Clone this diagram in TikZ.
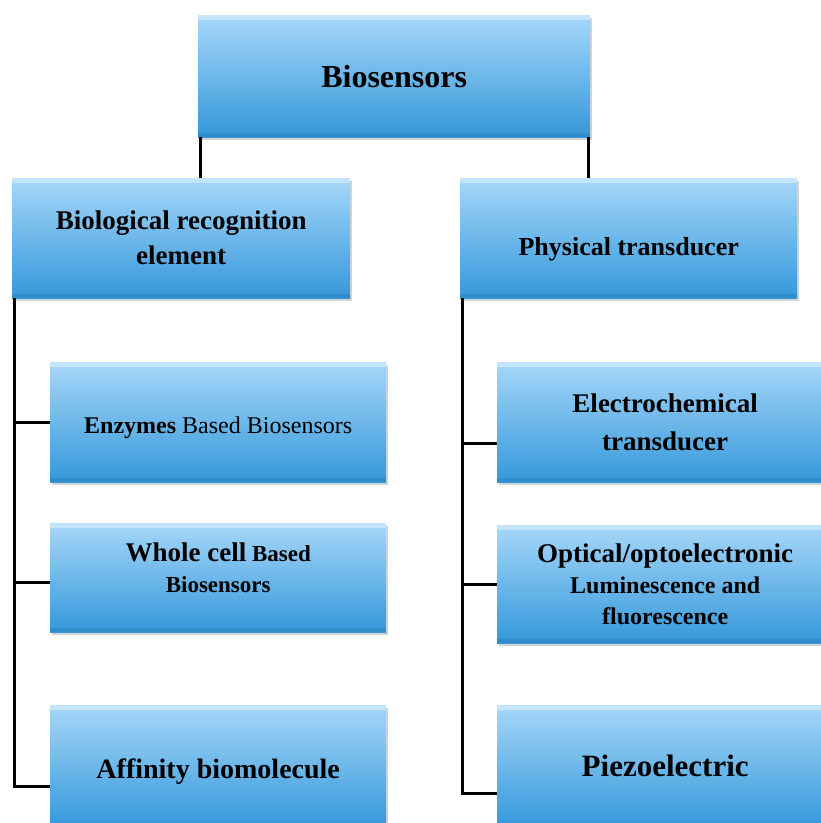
\documentclass[tikz,border=0pt]{standalone}
\usepackage{fontspec}
\setmainfont{Liberation Serif}
\usetikzlibrary{shadows, positioning, calc}
\definecolor{boxtop}{RGB}{166,215,249}
\definecolor{boxbot}{RGB}{52,152,218}

\begin{document}
\begin{tikzpicture}[
    x=1pt, y=-1pt,
    box/.style={rectangle, anchor=north west, inner sep=0pt,
                top color=boxtop, bottom color=boxbot, align=center,
                drop shadow={shadow xshift=2pt, shadow yshift=-3pt, opacity=0.35},
                path picture={
                  \fill[white, opacity=0.35] (path picture bounding box.north west) rectangle ([yshift=-5pt]path picture bounding box.north east);
                  \fill[black, opacity=0.08] (path picture bounding box.south west) rectangle ([yshift=4pt]path picture bounding box.south east);}},
    conn/.style={line width=3pt, black}
]
\useasboundingbox (0,0) rectangle (821,823);
\clip (0,0) rectangle (821,823);

% top and second level
\node[box, minimum width=392pt, minimum height=122pt, font=\fontsize{32}{36}\selectfont\bfseries] (B) at (198,15) {Biosensors};
\node[box, minimum width=338pt, minimum height=120pt, font=\fontsize{27}{35}\selectfont\bfseries] (L) at (12,178) {Biological recognition\\element};
\node[box, minimum width=337pt, minimum height=120pt, text height=40pt, text depth=6pt, font=\fontsize{26}{34}\selectfont\bfseries] (P) at (460,178) {Physical transducer};

% left column
\node[box, minimum width=336pt, minimum height=120pt, text height=28pt, text depth=5pt, font=\fontsize{24}{30}\selectfont] (E) at (50,362) {\textbf{Enzymes} Based Biosensors};
\node[box, minimum width=336pt, minimum height=109pt, font=\fontsize{23}{31}\selectfont\bfseries] (W) at (50,523) {{\fontsize{27}{31}\selectfont Whole cell} Based\\Biosensors\\[-10pt]};
\node[box, minimum width=336pt, minimum height=122pt, text height=30pt, text depth=6pt, font=\fontsize{28}{34}\selectfont\bfseries] (A) at (50,705) {Affinity biomolecule};

% right column
\node[box, minimum width=336pt, minimum height=120pt, font=\fontsize{27}{38}\selectfont\bfseries] (C) at (497,362) {Electrochemical\\transducer};
\node[box, minimum width=336pt, minimum height=118pt, font=\fontsize{24}{31}\selectfont\bfseries] (O) at (497,525) {{\fontsize{27}{31}\selectfont Optical/optoelectronic}\\Luminescence and\\fluorescence};
\node[box, minimum width=336pt, minimum height=122pt, font=\fontsize{31}{36}\selectfont\bfseries] (Z) at (497,705) {Piezoelectric};

% connectors
\draw[conn] ([xshift=2pt]B.south west) -- ([xshift=2pt]B.south west |- L.north);
\draw[conn] ([xshift=-2pt]B.south east) -- ([xshift=-2pt]B.south east |- P.north);

\coordinate (lt) at ([xshift=2pt]L.south west);
\coordinate (wa) at ([yshift=-5pt]W.west);
\draw[conn] (lt) |- ([yshift=-20pt]A.west);
\draw[conn] (lt |- E.west) -- (E.west);
\draw[conn] (lt |- wa) -- (wa);

\coordinate (rt) at ([xshift=2pt]P.south west);
\coordinate (ca) at ([yshift=-21pt]C.west);
\draw[conn] (rt) |- ([yshift=-27pt]Z.west);
\draw[conn] (rt |- ca) -- (ca);
\draw[conn] (rt |- O.west) -- (O.west);

\end{tikzpicture}
\end{document}
